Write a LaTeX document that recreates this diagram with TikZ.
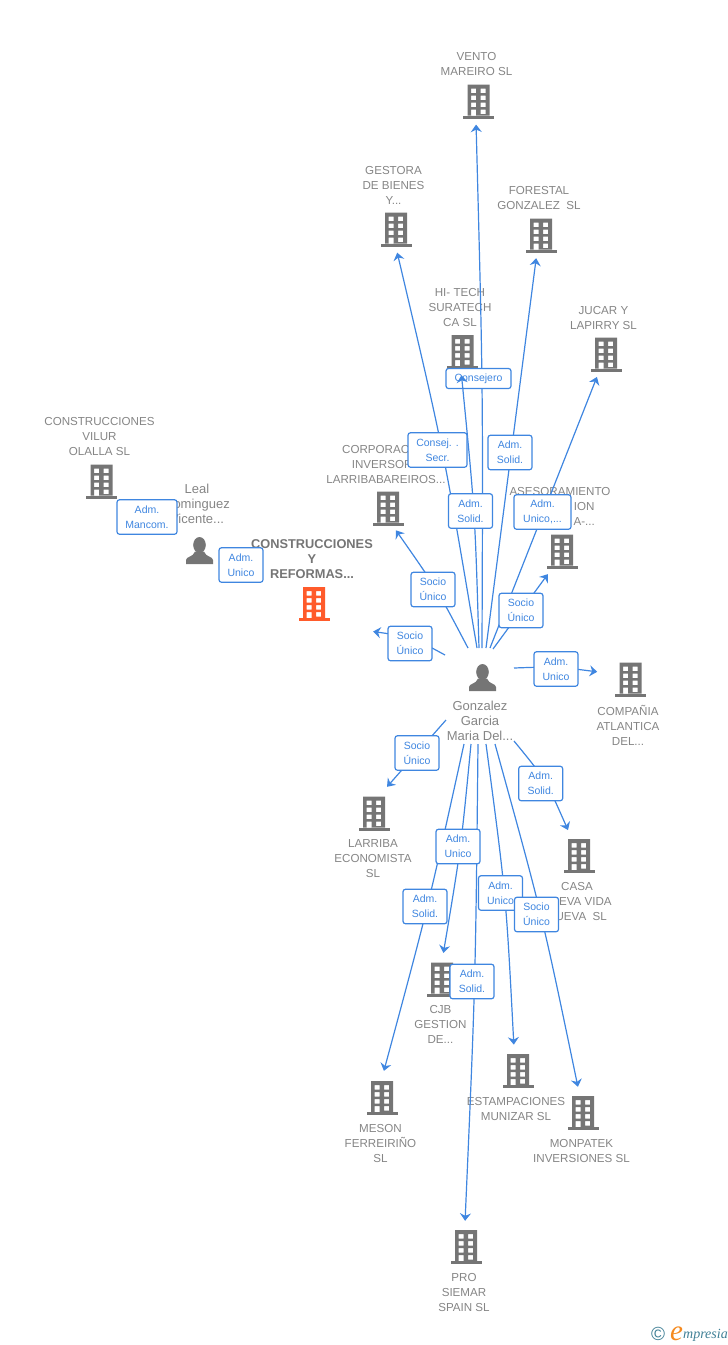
\documentclass[tikz,border=0pt]{standalone}
\usepackage{fontspec}
\setmainfont{Liberation Sans}
\newfontfamily\logofont{Liberation Serif}
\usetikzlibrary{arrows.meta}
\definecolor{bldgrey}{HTML}{757575}
\definecolor{bldorange}{HTML}{FF5B2B}
\definecolor{txtgrey}{HTML}{858585}
\definecolor{edgeblue}{HTML}{3F86E0}
\definecolor{logoteal}{HTML}{3F7F95}
\definecolor{logoorange}{HTML}{F58A1F}
\tikzset{
    bld/.style={circle, inner sep=0, minimum size=#1},
    bld/.default=46,
    bldtext/.style={text=txtgrey, align=center, inner sep=0, font=\fontsize{11.6}{15}\selectfont},
    mainbldtext/.style={text=bldgrey, align=center, inner sep=0, font=\bfseries\fontsize{12.8}{15}\selectfont},
    persontext/.style={text=txtgrey, align=center, inner sep=0, font=\fontsize{13}{15}\selectfont},
    edge/.style={draw=edgeblue, line width=1.2, -{Stealth[length=7.5, width=11, inset=2.5]}},
    lblbox/.style={draw=edgeblue, fill=white, rounded corners=2.5, line width=1.2, text=edgeblue,
        align=center, inner sep=0, minimum width=44, minimum height=34.5, font=\fontsize{10.5}{15}\selectfont},
    pics/building/.style={code={
        \fill[#1, even odd rule]
            (-11,-17) rectangle (11,14)
            (-7.5,-13) rectangle (-2.5,-8.5) (2,-13) rectangle (7,-8.5)
            (-7.5,-6) rectangle (-2.5,-1.5) (2,-6) rectangle (7,-1.5)
            (-7.5,1) rectangle (-2.5,5.5) (2,1) rectangle (7,5.5)
            (-7.5,8) rectangle (-2.5,14) (2,8) rectangle (7,12.5);
        \fill[#1] (-15.5,14) rectangle (15.5,17);
    }},
    pics/building/.default=bldgrey,
    pics/person/.style={code={
        \fill[bldgrey] (0,-5.5) ellipse [x radius=6.3, y radius=8];
        \fill[bldgrey] (-13.5,13.5) -- (-13.5,9.5) .. controls (-13.5,6) and (-6,6.5) .. (-4.5,1)
            -- (4.5,1) .. controls (6,6.5) and (13.5,6) .. (13.5,9.5) -- (13.5,13.5) -- cycle;
    }},
}

\begin{document}
\begin{tikzpicture}[x=1pt, y=-1pt]
    \useasboundingbox (0, 0) rectangle (728, 1345);

    \node [bldtext] (ventotext) at (476.5, 64.5) {VENTO\\MAREIRO SL};
    \node [bldtext] (gestoratext) at (393.5, 185) {GESTORA\\DE BIENES\\Y...};
    \node [bldtext] (forestaltext) at (539, 197.5) {FORESTAL\\GONZALEZ\ \ SL};
    \node [bldtext] (hitechtext) at (460, 307) {HI- TECH\\SURATECH\\CA SL};
    \node [bldtext] (jucartext) at (603.5, 317.5) {JUCAR Y\\LAPIRRY SL};
    \node [bldtext] (corporaciontext) at (386, 464) {CORPORACION\\INVERSORA\\LARRIBABAREIROS...};
    \node [bldtext] (asesoramientotext) at (560, 506) {ASESORAMIENTO\\\phantom{MMMMM}ION\\\phantom{MMMMM}A-...};
    \node [bldtext] (vilurtext) at (99.5, 436) {CONSTRUCCIONES\\VILUR\\OLALLA SL};
    \node [persontext] (lealtext) at (197, 504) {Leal\\Dominguez\\Vicente...};
    \node [mainbldtext] (reformastext) at (312, 559) {CONSTRUCCIONES\\Y\\REFORMAS...};
    \node [persontext] (gonzaleztext) at (480, 721) {Gonzalez\\Garcia\\Maria Del...};
    \node [bldtext] (companiatext) at (628, 725) {COMPAÑIA\\ATLANTICA\\DEL...};
    \node [bldtext] (larribatext) at (373, 859) {LARRIBA\\ECONOMISTA\\SL};
    \node [bldtext] (casatext) at (577, 901) {CASA\\NUEVA VIDA\\NUEVA\ \ SL};
    \node [bldtext] (cjbtext) at (440.5, 1024) {CJB\\GESTION\\DE...};
    \node [bldtext] (estampacionestext) at (516, 1108.5) {ESTAMPACIONES\\MUNIZAR SL};
    \node [bldtext] (monpatektext) at (581.5, 1150.5) {MONPATEK\\INVERSIONES SL};
    \node [bldtext] (mesontext) at (380.5, 1143) {MESON\\FERREIRIÑO\\SL};
    \node [bldtext] (prosiemartext) at (464, 1292) {PRO\\SIEMAR\\SPAIN SL};

    \node [bld] (vento) at (478.5, 101.5) {};
    \node [bld] (gestora) at (396, 229.5) {};
    \node [bld] (forestal) at (541, 235.5) {};
    \node [bld] (hitech) at (462.7, 352) {};
    \node [bld=48] (jucar) at (606, 354.5) {};
    \node [bld] (corporacion) at (388, 508.5) {};
    \node [bld=53] (asesoramiento) at (562, 551.5) {};
    \node [bld] (vilur) at (101.5, 481.5) {};
    \node [bld=130] (reformas) at (314, 604) {};
    \node [bld=68] (compania) at (630.5, 679.5) {};
    \node [bld=59] (larriba) at (374, 813.5) {};
    \node [bld=56] (casa) at (579, 856) {};
    \node [bld=53] (cjb) at (442, 979.5) {};
    \node [bld=53] (estampaciones) at (518, 1071) {};
    \node [bld=53] (monpatek) at (583, 1113) {};
    \node [bld=54] (meson) at (382, 1098) {};
    \node [bld=52] (prosiemar) at (466, 1247) {};
    \node [bld=27] (leal) at (199.5, 550.5) {};
    \node [bld=27] (gonzalez) at (482.5, 677.5) {};

    \pic at (vento) {building};
    \pic at (gestora) {building};
    \pic at (forestal) {building};
    \pic at (hitech) {building};
    \pic at (jucar) {building};
    \pic at (corporacion) {building};
    \pic at (asesoramiento) {building};
    \pic at (vilur) {building};
    \pic at (reformas) {building=bldorange};
    \pic at (compania) {building};
    \pic at (larriba) {building};
    \pic at (casa) {building};
    \pic at (cjb) {building};
    \pic at (estampaciones) {building};
    \pic at (monpatek) {building};
    \pic at (meson) {building};
    \pic at (prosiemar) {building};
    \pic at (leal) {person};
    \pic at (gonzalez) {person};

    \coordinate (outcorporacion) at (468, 648);
    \coordinate (outgestora) at (477, 648);
    \coordinate (outhitech) at (479, 648);
    \coordinate (outvento) at (482, 648);
    \coordinate (outforestal) at (486, 648);
    \coordinate (outjucar) at (490, 648);
    \coordinate (outasesoramiento) at (493, 649);
    \coordinate (outcompania) at (514, 668);
    \coordinate (outcasa) at (514, 741);
    \coordinate (outmonpatek) at (495, 744);
    \coordinate (outestampaciones) at (486, 744);
    \coordinate (outprosiemar) at (478, 744);
    \coordinate (outcjb) at (471, 744);
    \coordinate (outmeson) at (464, 744);
    \coordinate (outlarriba) at (446, 720);
    \coordinate (outreformas) at (445, 655);

    \draw [edge] (outvento) .. controls (483, 386) .. (vento.-96);
    \node [lblbox, minimum width=65, minimum height=20] (lblvento) at (478.5, 378.5) {Consejero};

    \draw [edge] (outgestora) .. controls (443.7, 450) .. (gestora.-87.5);
    \draw [edge] (outhitech) .. controls (475, 512) .. (hitech.-93);
    \draw [edge] (outforestal) -- (forestal.-102.5);
    \draw [edge] (outjucar) -- (jucar.-112);
    \draw [edge] (outcorporacion) .. controls (437, 589) .. (corporacion.-70);
    \draw [edge] (outasesoramiento) -- (asesoramiento.-122);
    \draw [edge] (outcompania) .. controls (555.5, 666.5) .. (compania.167);
    \draw [edge] (outreformas) .. controls (412, 637) .. (reformas.-25.4);
    \draw [edge] (outlarriba) -- (larriba.64);
    \draw [edge] (outcasa) .. controls (546, 780) .. (casa.113);
    \draw [edge] (outmeson) .. controls (428, 907.5) .. (meson.86);
    \draw [edge] (outcjb) .. controls (461, 848) .. (cjb.87);
    \draw [edge] (outprosiemar) .. controls (475.5, 982.5) .. (prosiemar.92);
    \draw [edge] (outestampaciones) .. controls (506, 894.5) .. (estampaciones.99);
    \draw [edge] (outmonpatek) .. controls (542, 914) .. (monpatek.101);

    \node [lblbox, minimum width=60] (lblvilur) at (147, 517) {Adm.\\Mancom.};
    \node [lblbox] (lblleal) at (241, 565) {Adm.\\Unico};
    \node [lblbox, minimum width=59] (lblgestora) at (437.5, 450) {Consej. .\\Secr.};
    \node [lblbox] (lblforestal) at (510, 452.5) {Adm.\\Solid.};
    \node [lblbox] (lblhitech) at (470.5, 511) {Adm.\\Solid.};
    \node [lblbox, minimum width=57] (lbljucar) at (542.5, 512) {Adm.\\Unico,...};
    \node [lblbox] (lblcorporacion) at (433, 589.5) {Socio\\Único};
    \node [lblbox] (lblasesoramiento) at (521, 610.5) {Socio\\Único};
    \node [lblbox] (lblreformas) at (410, 643.5) {Socio\\Único};
    \node [lblbox] (lblcompania) at (556, 669) {Adm.\\Unico};
    \node [lblbox] (lbllarriba) at (417, 753) {Socio\\Único};
    \node [lblbox] (lblcasa) at (540.7, 783.5) {Adm.\\Solid.};
    \node [lblbox] (lblcjb) at (458, 846.5) {Adm.\\Unico};
    \node [lblbox] (lblmeson) at (425, 906.5) {Adm.\\Solid.};
    \node [lblbox] (lblestampaciones) at (500.5, 893) {Adm.\\Unico};
    \node [lblbox] (lblmonpatek) at (536.5, 914.5) {Socio\\Único};
    \node [lblbox] (lblprosiemar) at (472, 981.5) {Adm.\\Solid.};

    \node [text=logoteal, inner sep=0, font=\fontsize{19}{19}\selectfont] (logocopy) at (658, 1334) {©};
    \node [text=logoorange, inner sep=0, font=\logofont\itshape\fontsize{29}{29}\selectfont, anchor=base west] (logoe) at (670, 1340) {e};
    \node [text=logoteal, inner sep=0, font=\logofont\itshape\fontsize{14}{14}\selectfont, anchor=base west] (logotext) at (683, 1338) {mpresia};
\end{tikzpicture}
\end{document}
